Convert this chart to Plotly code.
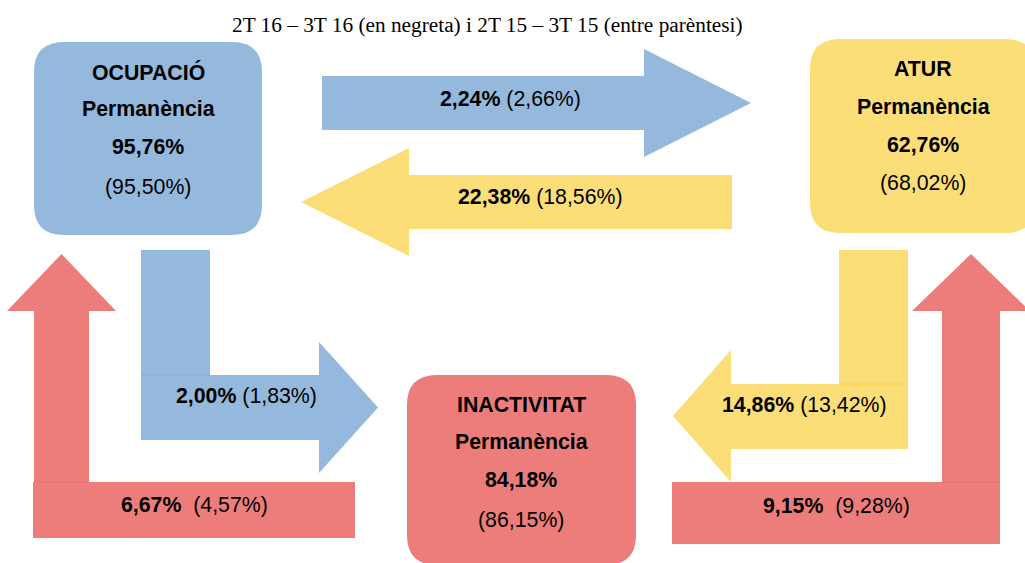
import plotly.graph_objects as go

# ---------------- data ----------------
title_text = "2T 16 – 3T 16 (en negreta) i 2T 15 – 3T 15 (entre parèntesi)"
states = ["OCUPACIÓ", "ATUR", "INACTIVITAT"]
stay_2016 = [95.76, 62.76, 84.18]
stay_2015 = [95.50, 68.02, 86.15]
flow_names = ["OCUPACIÓ→ATUR", "ATUR→OCUPACIÓ", "OCUPACIÓ→INACTIVITAT",
              "ATUR→INACTIVITAT", "INACTIVITAT→OCUPACIÓ", "INACTIVITAT→ATUR"]
flow_2016 = [2.24, 22.38, 2.00, 14.86, 6.67, 9.15]
flow_2015 = [2.66, 18.56, 1.83, 13.42, 4.57, 9.28]
flow_gap = [" ", " ", " ", " ", "&nbsp; ", "&nbsp; "]

# ---------------- styling / layout geometry ----------------
W, H = 1025, 563
BLUE, YELLOW, RED = "#95B9DC", "#FBDE77", "#EC7D7A"
state_colors = [BLUE, YELLOW, RED]
FONT = "Liberation Sans, Arial, sans-serif"
SERIF = "Liberation Serif, Times New Roman, serif"
FS = 21.3

box_geom = [(34, 42, 262, 235), (810, 39, 1035, 233), (407, 375, 636, 565)]
box_text_y = [(72, 109, 147, 187), (69, 107, 145, 183), (405, 442, 480, 520)]


def fmt(v):
    return f"{v:.2f}".replace(".", ",") + "%"


def rrect(x0, y0, x1, y1, r):
    return (f"M{x0+r},{y0} L{x1-r},{y0} Q{x1},{y0} {x1},{y0+r} "
            f"L{x1},{y1-r} Q{x1},{y1} {x1-r},{y1} L{x0+r},{y1} "
            f"Q{x0},{y1} {x0},{y1-r} L{x0},{y0+r} Q{x0},{y0} {x0+r},{y0} Z")


def harrow(xs, xb, xt, sy0, sy1, hy0, hy1):
    ym = (hy0 + hy1) / 2
    return (f"M{xs},{sy0} L{xb},{sy0} L{xb},{hy0} L{xt},{ym} L{xb},{hy1} "
            f"L{xb},{sy1} L{xs},{sy1} Z")


def varrow(ys, yb, yt, sx0, sx1, hx0, hx1):
    xm = (hx0 + hx1) / 2
    return (f"M{sx0},{ys} L{sx0},{yb} L{hx0},{yb} L{xm},{yt} L{hx1},{yb} "
            f"L{sx1},{yb} L{sx1},{ys} Z")


def rect(x0, y0, x1, y1):
    return f"M{x0},{y0} L{x1},{y0} L{x1},{y1} L{x0},{y1} Z"


shapes = []


def add(path, color):
    shapes.append(dict(type="path", path=path, xref="x", yref="y",
                       fillcolor=color, line=dict(width=0), layer="below"))


def add_line(x0, x1, y, color):
    shapes.append(dict(type="line", x0=x0, x1=x1, y0=y, y1=y, xref="x", yref="y",
                       line=dict(color=color, width=1)))


# flow arrows
add(harrow(322, 644, 751, 76, 130, 49, 157), BLUE)                 # ocup -> atur
add(harrow(732, 409, 301, 175, 229, 148, 256), YELLOW)             # atur -> ocup
add(rect(141, 250, 210, 375), BLUE)                                # ocup -> inact (vertical)
add(harrow(141, 319, 378, 375, 440, 342, 473), BLUE)               # ocup -> inact (horizontal)
add_line(141, 210, 375, "#86AEDA")
add(rect(839, 250, 908, 384), YELLOW)                              # atur -> inact (vertical)
add(harrow(908, 731, 673, 384, 449, 350, 482), YELLOW)             # atur -> inact (horizontal)
add_line(839, 908, 384, "#F8D44E")
add(varrow(482, 311, 254, 34, 89, 7, 116), RED)                    # inact -> ocup (vertical)
add(rect(33, 482, 355, 538), RED)                                  # inact -> ocup (horizontal)
add_line(34, 89, 482, "#E47272")
add(varrow(482, 311, 254, 942, 1000, 912, 1030), RED)             # inact -> atur (vertical)
add(rect(672, 482, 1000, 544), RED)                                # inact -> atur (horizontal)
add_line(942, 1000, 482, "#E47272")

# state boxes
for (x0, y0, x1, y1), c in zip(box_geom, state_colors):
    add(rrect(x0, y0, x1, y1, 30), c)

annotations = []


def txt(x, y, s, size=FS, font=FONT):
    annotations.append(dict(x=x, y=y, xref="x", yref="y", text=s, showarrow=False,
                            xanchor="center", yanchor="middle",
                            font=dict(family=font, size=size, color="#000000")))


txt(487, 25, title_text, size=21.3, font=SERIF)

box_cx = [148, 923, 521]
for i, name in enumerate(states):
    ys = box_text_y[i]
    txt(box_cx[i], ys[0], f"<b>{name}</b>")
    txt(box_cx[i], ys[1], "<b>Permanència</b>")
    txt(box_cx[i], ys[2], f"<b>{fmt(stay_2016[i])}</b>")
    txt(box_cx[i], ys[3], f"({fmt(stay_2015[i])})")

flow_pos = [(510, 99), (540, 197), (246, 396), (804, 405), (194, 505), (836, 506)]
for i in range(len(flow_names)):
    x, y = flow_pos[i]
    txt(x, y, f"<b>{fmt(flow_2016[i])}</b>{flow_gap[i]}({fmt(flow_2015[i])})")

fig = go.Figure()
fig.update_layout(
    width=W, height=H, margin=dict(l=0, r=0, t=0, b=0),
    paper_bgcolor="white", plot_bgcolor="white",
    xaxis=dict(range=[0, W], visible=False, fixedrange=True),
    yaxis=dict(range=[H, 0], visible=False, fixedrange=True),
    shapes=shapes, annotations=annotations, showlegend=False,
)
fig.write_html("out.html", config={"displayModeBar": False},
               post_script="document.body.style.margin='0';document.body.style.overflow='hidden';")
